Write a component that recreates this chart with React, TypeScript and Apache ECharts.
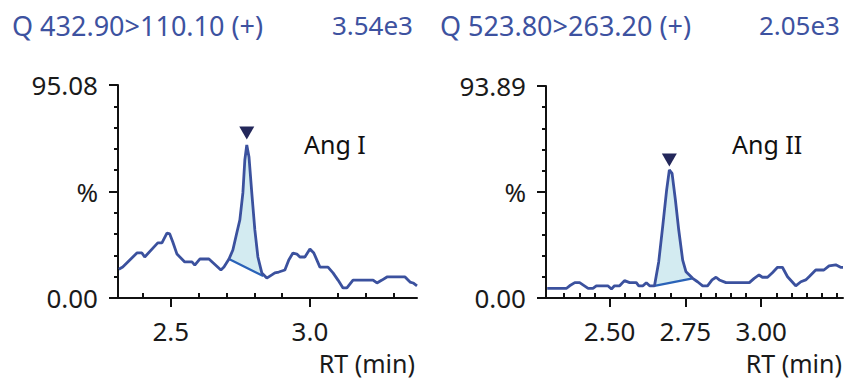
import React, { useEffect, useRef } from "react";
import * as echarts from "echarts";

// ---- Left trace: Q 432.90>110.10 (+) ----
const leftTitle = "Q 432.90>110.10 (+)";
const leftIntensity = "3.54e3";
const leftMax = 95.08;
const leftT = [2.313, 2.327, 2.378, 2.396, 2.406, 2.453, 2.468, 2.486, 2.496, 2.507, 2.522, 2.55, 2.576, 2.586, 2.604, 2.637, 2.68, 2.691, 2.709, 2.723, 2.737, 2.748, 2.759, 2.766, 2.773, 2.781, 2.791, 2.802, 2.813, 2.827, 2.845, 2.863, 2.874, 2.888, 2.91, 2.924, 2.939, 2.953, 2.964, 2.982, 3.0, 3.014, 3.036, 3.065, 3.083, 3.101, 3.119, 3.133, 3.155, 3.227, 3.241, 3.259, 3.277, 3.342, 3.36, 3.371, 3.385];
const leftV = [12.8, 13.8, 20.1, 20.1, 18.3, 24.6, 24.6, 29.0, 28.6, 25.0, 19.6, 16.1, 16.1, 14.7, 17.4, 17.4, 12.5, 13.8, 17.4, 21.4, 29.0, 34.8, 46.9, 61.6, 68.3, 62.9, 46.9, 30.4, 18.3, 11.2, 8.9, 10.3, 11.2, 11.6, 12.5, 17.0, 20.1, 19.6, 18.3, 18.3, 21.9, 20.1, 13.8, 13.8, 11.2, 8.0, 4.5, 4.5, 8.0, 8.0, 6.7, 8.0, 9.4, 9.4, 7.1, 6.7, 5.4];
const leftBaseline = [[2.709, 17.4], [2.832, 9.8]];
const leftApex = [2.773, 68.3];
const leftPeakName = "Ang I";
const leftXRange = [2.31, 3.385];
const leftMajorTicks = [2.5, 3.0];
const leftMinorTicks = [2.4, 2.6, 2.7, 2.8, 2.9, 3.1, 3.2, 3.3];

// ---- Right trace: Q 523.80>263.20 (+) ----
const rightTitle = "Q 523.80>263.20 (+)";
const rightIntensity = "2.05e3";
const rightMax = 93.89;
const rightT = [2.294, 2.358, 2.368, 2.385, 2.401, 2.429, 2.445, 2.456, 2.494, 2.506, 2.516, 2.533, 2.549, 2.566, 2.588, 2.596, 2.61, 2.621, 2.632, 2.648, 2.662, 2.675, 2.688, 2.697, 2.706, 2.717, 2.728, 2.741, 2.752, 2.774, 2.79, 2.807, 2.823, 2.838, 2.851, 2.862, 2.884, 2.961, 2.977, 2.993, 3.004, 3.021, 3.037, 3.054, 3.07, 3.087, 3.114, 3.131, 3.147, 3.158, 3.18, 3.207, 3.224, 3.246, 3.262, 3.27];
const rightV = [4.3, 4.3, 5.4, 6.8, 6.8, 4.3, 4.3, 5.4, 5.4, 4.0, 5.4, 5.4, 7.7, 6.8, 6.8, 5.4, 5.4, 6.8, 5.4, 5.4, 16.1, 31.6, 47.8, 56.7, 55.2, 43.4, 30.1, 16.8, 11.6, 8.7, 7.2, 5.4, 5.4, 8.0, 9.2, 8.0, 6.8, 6.8, 8.7, 10.2, 9.2, 9.2, 11.2, 13.6, 13.6, 9.4, 5.4, 7.2, 8.0, 9.4, 12.4, 12.4, 14.2, 14.7, 13.6, 13.6];
const rightBaseline = [[2.648, 5.4], [2.774, 8.7]];
const rightApex = [2.697, 56.7];
const rightPeakName = "Ang II";
const rightXRange = [2.29, 3.27];
const rightMajorTicks = [2.5, 2.75, 3.0];
const rightMinorTicks = [2.35, 2.4, 2.45, 2.55, 2.6, 2.65, 2.7, 2.8, 2.85, 2.9, 2.95, 3.05, 3.1, 3.15, 3.2, 3.25];

const FONT = "'Noto Sans', 'Open Sans', sans-serif";
const TRACE = "#3b519e";
const FILL = "#d3ebf1";
const BASE = "#2a62b8";
const MARK = "#23275a";
const TITLE = "#3d52a0";
const AXIS = "#111111";

function zip(t: number[], v: number[]) {
  return t.map((x, i) => [x, v[i]]);
}

function buildPanel(idx: number, cfg: any) {
  const pts = zip(cfg.t, cfg.v);
  const b0 = cfg.baseline[0];
  const b1 = cfg.baseline[1];
  const xMain = {
    gridIndex: idx,
    type: "value",
    min: cfg.range[0],
    max: cfg.range[1],
    axisLine: { show: true, onZero: false, lineStyle: { color: AXIS, width: 2 } },
    axisTick: { show: true, customValues: cfg.major, length: 9, lineStyle: { color: AXIS, width: 2 } },
    axisLabel: {
      customValues: cfg.major,
      formatter: (v: number) => v.toFixed(cfg.decimals),
      margin: 20,
      fontSize: 26,
      fontFamily: FONT,
      color: "#1a1a1a",
    },
    splitLine: { show: false },
  };
  const xMinor = {
    gridIndex: idx,
    type: "value",
    min: cfg.range[0],
    max: cfg.range[1],
    axisLine: { show: false },
    axisTick: { show: true, customValues: cfg.minor, length: 5, lineStyle: { color: AXIS, width: 2 } },
    axisLabel: { show: false },
    splitLine: { show: false },
  };
  const y = {
    gridIndex: idx,
    type: "value",
    min: 0,
    max: cfg.ymax,
    interval: cfg.ymax / 2,
    axisLine: { show: true, lineStyle: { color: AXIS, width: 2 } },
    axisTick: { show: true, length: 9, lineStyle: { color: AXIS, width: 2 } },
    minorTick: { show: true, splitNumber: 5, length: 4, lineStyle: { color: AXIS, width: 2 } },
    axisLabel: {
      formatter: (v: number, i: number) => (i === 0 ? "0.00" : i === 1 ? "%" : cfg.ymax.toFixed(2)),
      margin: 20,
      fontSize: 26,
      fontFamily: FONT,
      color: "#1a1a1a",
    },
    splitLine: { show: false },
  };
  const xi = idx * 2;
  const series = [
    {
      type: "custom",
      xAxisIndex: xi,
      yAxisIndex: idx,
      z: 1,
      silent: true,
      data: [b0],
      renderItem: (_p: any, api: any) => {
        const poly: number[][] = [api.coord(b0)];
        pts.forEach((p) => {
          if (p[0] > b0[0] && p[0] <= b1[0]) poly.push(api.coord(p));
        });
        poly.push(api.coord(b1));
        return { type: "polygon", shape: { points: poly }, style: { fill: FILL } };
      },
    },
    {
      type: "line",
      xAxisIndex: xi,
      yAxisIndex: idx,
      z: 3,
      data: pts,
      showSymbol: false,
      symbol: "none",
      lineStyle: { color: TRACE, width: 2.8 },
    },
    {
      type: "line",
      xAxisIndex: xi,
      yAxisIndex: idx,
      z: 2,
      data: [b0, b1],
      showSymbol: false,
      symbol: "none",
      lineStyle: { color: BASE, width: 2.2 },
    },
    {
      type: "scatter",
      xAxisIndex: xi,
      yAxisIndex: idx,
      z: 4,
      data: [cfg.apex],
      symbol: "triangle",
      symbolRotate: 180,
      symbolSize: [15, 13],
      symbolOffset: [0, cfg.markOffset],
      itemStyle: { color: MARK, opacity: 1 },
    },
  ];
  return { xAxes: [xMain, xMinor], y, series };
}

export default function App() {
  const ref = useRef<HTMLDivElement>(null);
  useEffect(() => {
    document.body.style.margin = "0";
    if (!ref.current) return;
    const chart = echarts.init(ref.current, undefined, { renderer: "svg" });
    const L = buildPanel(0, {
      t: leftT, v: leftV, baseline: leftBaseline, apex: leftApex, range: leftXRange,
      major: leftMajorTicks, minor: leftMinorTicks, ymax: leftMax, decimals: 1, markOffset: -12,
    });
    const R = buildPanel(1, {
      t: rightT, v: rightV, baseline: rightBaseline, apex: rightApex, range: rightXRange,
      major: rightMajorTicks, minor: rightMinorTicks, ymax: rightMax, decimals: 2, markOffset: -10,
    });
    const txt = (text: string, x: number, y: number, align: string, size: number, color: string) => ({
      type: "text",
      x,
      y,
      silent: true,
      style: {
        text,
        fill: color,
        font: `${size}px ${FONT}`,
        textAlign: align,
        align,
        textVerticalAlign: "middle",
        verticalAlign: "middle",
      },
    });
    chart.setOption({
      animation: false,
      backgroundColor: "#ffffff",
      grid: [
        { left: 118, top: 85, width: 299, height: 213 },
        { left: 546, top: 86, width: 297, height: 212 },
      ],
      xAxis: [...L.xAxes, ...R.xAxes],
      yAxis: [L.y, R.y],
      series: [...L.series, ...R.series],
      graphic: [
        txt(leftTitle, 12, 25, "left", 27, TITLE),
        txt(leftIntensity, 413, 25, "right", 26, TITLE),
        txt(rightTitle, 440, 25, "left", 27, TITLE),
        txt(rightIntensity, 840, 25, "right", 26, TITLE),
        txt("RT (min)", 415, 363, "right", 25, "#1a1a1a"),
        txt("RT (min)", 842, 363, "right", 25, "#1a1a1a"),
        txt(leftPeakName, 304, 144, "left", 25, "#111111"),
        txt(rightPeakName, 732, 144, "left", 25, "#111111"),
      ],
    });
    return () => chart.dispose();
  }, []);
  return <div ref={ref} style={{ width: 847, height: 380 }} />;
}
